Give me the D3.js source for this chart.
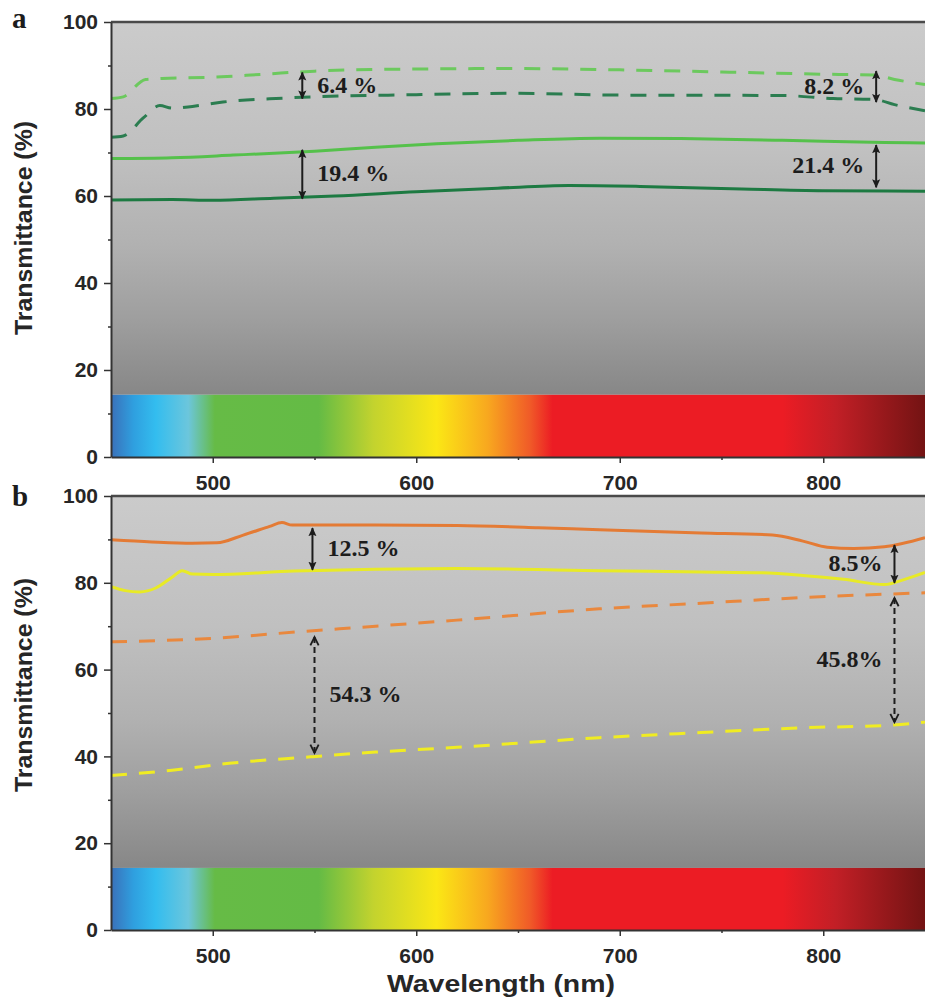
<!DOCTYPE html>
<html lang="en">

<head>
    <meta charset="utf-8" />
    <title>Transmittance spectra</title>
    <script src="https://cdnjs.cloudflare.com/ajax/libs/d3/7.8.5/d3.min.js"></script>
    <style>
        body,
        html {
            margin: 0;
            padding: 0;
            background: #fff;
        }

        svg {
            display: block;
        }

        .tick text {
            font-family: "Liberation Sans", Arial, sans-serif;
            font-weight: bold;
            font-size: 21px;
            fill: #262626;
        }

        .title {
            font-family: "Liberation Sans", Arial, sans-serif;
            font-weight: bold;
            fill: #262626;
        }

        .note {
            font-family: "Liberation Serif", "Times New Roman", serif;
            font-weight: bold;
            font-size: 24px;
            fill: #1c1c1c;
        }

        .letter {
            font-family: "Liberation Serif", "Times New Roman", serif;
            font-weight: bold;
            font-size: 29px;
            fill: #1c1c1c;
        }
    </style>
</head>

<body>
    <div id="chart"></div>
    <script>
        // x: wavelength (nm), y: transmittance (%)
        const xMajorTicks = [500, 600, 700, 800];
        const xMinorTicks = [550, 650, 750];
        const yMajorTicks = [0, 20, 40, 60, 80, 100];
        const yMinorTicks = [10, 30, 50, 70, 90];

        // panel a
        const aLightDash = [[450, 82.4], [456, 82.8], [467, 86.8], [475, 87.0], [500, 87.3], [525, 88.0], [550, 88.7],
            [600, 89.2], [650, 89.3], [700, 89.0], [750, 88.5], [800, 88.0], [825, 87.8], [835, 86.8], [850, 85.6]];
        const aDarkDash = [[450, 73.5], [456, 73.8], [466, 78.0], [474, 80.8], [480, 80.2], [490, 80.6], [505, 81.6],
            [535, 82.5], [600, 83.3], [650, 83.6], [700, 83.2], [780, 83.1], [805, 82.4], [825, 82.2], [835, 81.0], [850, 79.6]];
        const aLightSolid = [[450, 68.6], [480, 68.8], [510, 69.4], [550, 70.3], [580, 71.2], [610, 72.0], [650, 72.8],
            [690, 73.3], [730, 73.2], [780, 72.8], [830, 72.3], [850, 72.2]];
        const aDarkSolid = [[450, 59.1], [480, 59.2], [500, 59.0], [530, 59.5], [560, 60.0], [600, 61.0], [640, 61.8],
            [675, 62.4], [710, 62.2], [760, 61.6], [800, 61.2], [850, 61.1]];

        // panel b
        const bOrangeSolid = [[450, 89.9], [470, 89.4], [490, 89.1], [502, 89.2], [515, 91.0], [528, 93.0], [534, 93.9],
            [539, 93.3], [580, 93.3], [620, 93.2], [660, 92.7], [690, 92.2], [740, 91.5], [775, 91.0], [790, 89.6],
            [802, 88.2], [815, 87.9], [830, 88.3], [850, 90.4]];
        const bYellowSolid = [[450, 79.1], [457, 78.2], [464, 77.9], [472, 78.8], [480, 81.3], [485, 82.8], [490, 82.0],
            [500, 81.9], [540, 82.7], [620, 83.3], [690, 82.8], [740, 82.5], [770, 82.3], [790, 81.7], [810, 80.8],
            [830, 79.6], [840, 80.8], [850, 82.4]];
        const bOrangeDash = [[450, 66.4], [500, 67.2], [542, 68.7], [580, 70.0], [620, 71.4], [690, 74.0], [740, 75.3],
            [790, 76.6], [850, 77.7]];
        const bYellowDash = [[450, 35.6], [480, 36.8], [508, 38.4], [548, 39.9], [580, 41.0], [620, 42.1], [690, 44.3],
            [740, 45.5], [790, 46.6], [833, 47.2], [850, 47.9]];

        // double arrows: wavelength, from %, to %, label
        const notesA = [
            { wl: 544, from: 88.4, to: 82.4, label: "6.4 %", side: "right", dashed: false },
            { wl: 544, from: 70.6, to: 59.4, label: "19.4 %", side: "right", dashed: false },
            { wl: 826, from: 88.7, to: 81.6, label: "8.2 %", side: "left", dashed: false },
            { wl: 826, from: 71.7, to: 62.0, label: "21.4 %", side: "left", dashed: false }
        ];
        const notesB = [
            { wl: 549, from: 92.6, to: 83.0, label: "12.5 %", side: "right", dashed: false },
            { wl: 835, from: 88.7, to: 80.0, label: "8.5%", side: "left", dashed: false },
            { wl: 550, from: 67.5, to: 40.8, label: "54.3 %", side: "right", dashed: true },
            { wl: 835, from: 76.5, to: 47.9, label: "45.8%", side: "left", dashed: true }
        ];

        // visible spectrum strip along the bottom
        const spectrumTop = 14.3;
        const spectrumStops = [[450, "#3a70b9"], [461, "#2f9fdf"], [472, "#33bdef"], [488, "#6cc6dc"], [501, "#66bb46"],
            [552, "#64bb45"], [579, "#c3d32e"], [610, "#fbe715"], [635, "#f8a81f"], [656, "#f05a28"], [667, "#ec1c24"],
            [780, "#ec1c24"], [806, "#c21f26"], [850, "#731313"]];

        const W = 925, H = 999;
        const svg = d3.select("#chart").append("svg")
            .attr("width", W)
            .attr("height", H);
        const defs = svg.append("defs");

        const x = d3.scaleLinear().domain([450, 850]).range([111, 925]);

        // spectrum gradient (horizontal, shared)
        defs.append("linearGradient")
            .attr("id", "spectrum")
            .attr("gradientUnits", "userSpaceOnUse")
            .attr("x1", x(450)).attr("x2", x(850))
            .attr("y1", 0).attr("y2", 0)
            .selectAll("stop")
            .data(spectrumStops)
            .enter().append("stop")
            .attr("offset", d => (d[0] - 450) / 400)
            .attr("stop-color", d => d[1]);

        // arrow heads
        defs.append("marker")
            .attr("id", "headSolid")
            .attr("viewBox", "0 -5 10 10")
            .attr("refX", 9)
            .attr("refY", 0)
            .attr("markerWidth", 9)
            .attr("markerHeight", 9)
            .attr("markerUnits", "userSpaceOnUse")
            .attr("orient", "auto-start-reverse")
            .append("path")
            .attr("fill", "#1c1c1c")
            .attr("d", "M0,-4.5L10,0L0,4.5L2,0Z");
        defs.append("marker")
            .attr("id", "headOpen")
            .attr("viewBox", "-1 -6 12 12")
            .attr("refX", 9)
            .attr("refY", 0)
            .attr("markerWidth", 11)
            .attr("markerHeight", 11)
            .attr("markerUnits", "userSpaceOnUse")
            .attr("orient", "auto-start-reverse")
            .append("path")
            .attr("fill", "none")
            .attr("stroke", "#1c1c1c")
            .attr("stroke-width", 2)
            .attr("d", "M0,-4.5L9,0L0,4.5");

        const panels = [
            {
                id: "a", top: 22, bottom: 457, letterY: 28, titleY: 228,
                series: [
                    { data: aLightDash, color: "#6cc95e", dash: "16,12" },
                    { data: aDarkDash, color: "#2b7d50", dash: "16,12" },
                    { data: aLightSolid, color: "#55c14b", dash: null },
                    { data: aDarkSolid, color: "#1d7a42", dash: null }
                ],
                notes: notesA
            },
            {
                id: "b", top: 496, bottom: 930, letterY: 506, titleY: 685,
                series: [
                    { data: bOrangeDash, color: "#e9883e", dash: "16,12" },
                    { data: bYellowDash, color: "#f0ec22", dash: "16,12" },
                    { data: bOrangeSolid, color: "#e47b35", dash: null },
                    { data: bYellowSolid, color: "#e8ea26", dash: null }
                ],
                notes: notesB
            }
        ];

        panels.forEach(p => {
            const y = d3.scaleLinear().domain([0, 100]).range([p.bottom, p.top]);
            const g = svg.append("g").attr("class", "panel-" + p.id);

            // grey background, lighter at the top
            const bg = defs.append("linearGradient")
                .attr("id", "bg-" + p.id)
                .attr("gradientUnits", "userSpaceOnUse")
                .attr("x1", 0).attr("x2", 0)
                .attr("y1", y(100)).attr("y2", y(spectrumTop));
            [[0, "#cbcbcb"], [0.35, "#c0c0c0"], [0.6, "#b1b1b1"], [0.8, "#9e9e9e"], [1, "#878787"]].forEach(s => {
                bg.append("stop").attr("offset", s[0]).attr("stop-color", s[1]);
            });

            defs.append("clipPath")
                .attr("id", "clip-" + p.id)
                .append("rect")
                .attr("x", x(450)).attr("y", y(100))
                .attr("width", x(850) - x(450))
                .attr("height", y(0) - y(100));

            g.append("rect")
                .attr("x", x(450)).attr("y", y(100))
                .attr("width", x(850) - x(450))
                .attr("height", y(spectrumTop) - y(100))
                .attr("fill", "url(#bg-" + p.id + ")");

            g.append("rect")
                .attr("x", x(450)).attr("y", y(spectrumTop))
                .attr("width", x(850) - x(450))
                .attr("height", y(0) - y(spectrumTop))
                .attr("fill", "url(#spectrum)");

            const line = d3.line()
                .x(d => x(d[0]))
                .y(d => y(d[1]))
                .curve(d3.curveMonotoneX);

            g.append("g")
                .attr("clip-path", "url(#clip-" + p.id + ")")
                .selectAll("path")
                .data(p.series)
                .enter().append("path")
                .attr("d", d => line(d.data))
                .attr("fill", "none")
                .attr("stroke", d => d.color)
                .attr("stroke-width", 3)
                .attr("stroke-dasharray", d => d.dash);

            // top frame line
            g.append("line")
                .attr("x1", x(450)).attr("x2", x(850))
                .attr("y1", y(100)).attr("y2", y(100))
                .attr("stroke", "#4a4a4a")
                .attr("stroke-width", 2.5);

            // axes
            const xAxis = g.append("g")
                .attr("transform", `translate(0,${y(0)})`)
                .call(d3.axisBottom(x).tickValues(xMajorTicks).tickSize(6).tickSizeOuter(0).tickPadding(12));
            g.append("g")
                .attr("transform", `translate(0,${y(0)})`)
                .call(d3.axisBottom(x).tickValues(xMinorTicks).tickSize(3).tickSizeOuter(0).tickFormat(""))
                .select(".domain").remove();
            const yAxis = g.append("g")
                .attr("transform", `translate(${x(450)},0)`)
                .call(d3.axisLeft(y).tickValues(yMajorTicks).tickSize(7).tickSizeOuter(0).tickPadding(6));
            g.append("g")
                .attr("transform", `translate(${x(450)},0)`)
                .call(d3.axisLeft(y).tickValues(yMinorTicks).tickSize(3).tickSizeOuter(0).tickFormat(""))
                .select(".domain").remove();
            g.selectAll(".domain").attr("stroke", "#333").attr("stroke-width", 2);
            g.selectAll(".tick line").attr("stroke", "#333").attr("stroke-width", 1.5);

            // double arrows with labels
            const note = g.append("g").selectAll("g")
                .data(p.notes)
                .enter().append("g");
            note.append("line")
                .attr("x1", d => x(d.wl)).attr("x2", d => x(d.wl))
                .attr("y1", d => y(d.from)).attr("y2", d => y(d.to))
                .attr("stroke", "#1c1c1c")
                .attr("stroke-width", 2)
                .attr("stroke-dasharray", d => d.dashed ? "6,4" : null)
                .attr("marker-start", d => d.dashed ? "url(#headOpen)" : "url(#headSolid)")
                .attr("marker-end", d => d.dashed ? "url(#headOpen)" : "url(#headSolid)");
            note.append("text")
                .attr("class", "note")
                .attr("x", d => d.side === "right" ? x(d.wl) + 15 : x(d.wl) - 12)
                .attr("y", d => y((d.from + d.to) / 2))
                .attr("dy", "0.3em")
                .attr("text-anchor", d => d.side === "right" ? "start" : "end")
                .text(d => d.label);

            // panel letter and y title
            svg.append("text")
                .attr("class", "letter")
                .attr("x", 12)
                .attr("y", p.letterY)
                .text(p.id);
            svg.append("text")
                .attr("class", "title")
                .attr("transform", `translate(32,${p.titleY}) rotate(-90)`)
                .attr("text-anchor", "middle")
                .attr("font-size", 23)
                .attr("textLength", 214)
                .attr("lengthAdjust", "spacingAndGlyphs")
                .text("Transmittance (%)");
        });

        svg.append("text")
            .attr("class", "title")
            .attr("x", 501)
            .attr("y", 992)
            .attr("text-anchor", "middle")
            .attr("font-size", 24)
            .attr("textLength", 228)
            .attr("lengthAdjust", "spacingAndGlyphs")
            .text("Wavelength (nm)");
    </script>
</body>

</html>
